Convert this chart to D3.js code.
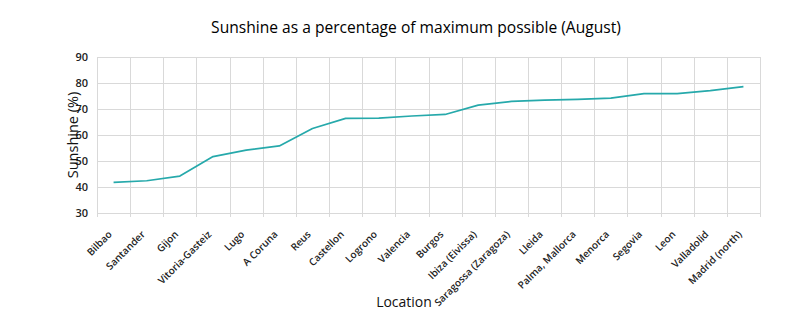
<!DOCTYPE html>
<html>
<head>
<meta charset="utf-8">
<script src="https://cdn.jsdelivr.net/npm/d3@7"></script>
<style>
  html, body { margin: 0; padding: 0; background: #fff; }
  svg { display: block; font-family: "Open Sans", "Liberation Sans", sans-serif; }
</style>
</head>
<body>
<svg id="chart" width="805" height="325"></svg>
<script>
// Sunshine in August, sorted from least to most
const locations = [
  "Bilbao", "Santander", "Gijon", "Vitoria-Gasteiz", "Lugo", "A Coruna",
  "Reus", "Castellon", "Logrono", "Valencia", "Burgos", "Ibiza (Eivissa)",
  "Saragossa (Zaragoza)", "Lleida", "Palma, Mallorca", "Menorca", "Segovia",
  "Leon", "Valladolid", "Madrid (north)"
];
const sunshine = [
  41.8, 42.4, 44.2, 51.7, 54.2, 55.8, 62.5, 66.4, 66.5, 67.3,
  67.9, 71.5, 72.9, 73.4, 73.7, 74.2, 75.9, 75.9, 77.1, 78.6
];
const yTicks = [30, 40, 50, 60, 70, 80, 90];

const svg = d3.select("#chart");
const plotLeft = 97, plotRight = 760, plotTop = 57, plotBottom = 213;

const x = d3.scaleBand().domain(locations).range([plotLeft, plotRight]).paddingInner(0).paddingOuter(0);
const y = d3.scaleLinear().domain([30, 90]).range([plotBottom, plotTop]);

const grid = "#d9d9d9";

// horizontal gridlines
svg.append("g").selectAll("line").data(yTicks).join("line")
  .attr("x1", plotLeft).attr("x2", plotRight)
  .attr("y1", d => y(d) + 0.5).attr("y2", d => y(d) + 0.5)
  .attr("stroke", grid).attr("stroke-width", 1);

// vertical gridlines on category boundaries, with small ticks below the axis
const bounds = locations.map(d => x(d)).concat([plotRight]);
svg.append("g").selectAll("line").data(bounds).join("line")
  .attr("x1", d => Math.round(d) + 0.5).attr("x2", d => Math.round(d) + 0.5)
  .attr("y1", plotTop).attr("y2", plotBottom + 4)
  .attr("stroke", grid).attr("stroke-width", 1);

// y tick labels
svg.append("g").selectAll("text").data(yTicks).join("text")
  .attr("x", plotLeft - 9).attr("y", d => y(d))
  .attr("dy", "0.35em")
  .attr("text-anchor", "end")
  .attr("font-size", 11).attr("font-weight", 600)
  .attr("fill", "#222")
  .text(d => d);

// x tick labels, rotated
svg.append("g").selectAll("text").data(locations).join("text")
  .attr("transform", d => `translate(${x(d) + x.bandwidth() / 2 - 1},${plotBottom + 22}) rotate(-45)`)
  .attr("text-anchor", "end")
  .attr("font-size", 10).attr("font-weight", 600)
  .attr("fill", "#222")
  .text(d => d);

// series line
const line = d3.line()
  .x((d, i) => x(locations[i]) + x.bandwidth() / 2)
  .y(d => y(d));
svg.append("path")
  .datum(sunshine)
  .attr("d", line)
  .attr("fill", "none")
  .attr("stroke", "#26a9ab")
  .attr("stroke-width", 1.7)
  .attr("stroke-linejoin", "round");

// title
svg.append("text")
  .attr("x", 416).attr("y", 33)
  .attr("text-anchor", "middle")
  .attr("font-size", 15.6).attr("fill", "#000")
  .text("Sunshine as a percentage of maximum possible (August)");

// axis titles
svg.append("text")
  .attr("transform", `translate(78,${(plotTop + plotBottom) / 2}) rotate(-90)`)
  .attr("text-anchor", "middle")
  .attr("font-size", 14.5).attr("fill", "#111")
  .text("Sunshine (%)");

svg.append("text")
  .attr("x", 404).attr("y", 307)
  .attr("text-anchor", "middle")
  .attr("font-size", 14).attr("fill", "#111")
  .text("Location");
</script>
</body>
</html>
